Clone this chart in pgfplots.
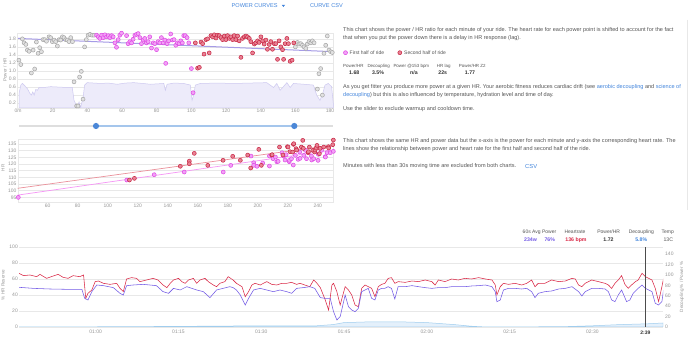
\documentclass[border=0pt]{standalone}
\usepackage{fontspec}
\setmainfont{Liberation Sans}
\usepackage{pgfplots}
\pgfplotsset{compat=1.18}
\definecolor{txt}{RGB}{85,85,85}
\definecolor{tickc}{RGB}{150,150,150}
\definecolor{gridc}{RGB}{232,232,232}
\definecolor{linkb}{RGB}{66,133,220}
\definecolor{magf}{RGB}{242,160,246}
\definecolor{magd}{RGB}{222,70,228}
\definecolor{redf}{RGB}{232,130,148}
\definecolor{redd}{RGB}{198,35,65}
\definecolor{grayf}{RGB}{225,225,225}
\definecolor{grayd}{RGB}{165,165,165}
\definecolor{trend}{RGB}{165,155,230}
\definecolor{lavf}{RGB}{237,235,250}
\definecolor{lavl}{RGB}{205,200,240}
\definecolor{hrred}{RGB}{218,40,70}
\definecolor{pwpur}{RGB}{115,90,230}
\definecolor{decb}{RGB}{160,205,238}
\definecolor{decf}{RGB}{228,240,251}
\definecolor{sltrack}{RGB}{222,222,222}
\definecolor{slblue}{RGB}{165,198,236}
\definecolor{slhandle}{RGB}{75,135,215}
\definecolor{midred}{RGB}{235,145,155}
\definecolor{midmag}{RGB}{245,150,245}
\definecolor{valc}{RGB}{50,50,50}
\newcommand\bodyf{\fontsize{5.55}{6.5}\selectfont}
\newcommand\legf{\fontsize{5}{6}\selectfont}
\newcommand\tickf{\fontsize{5}{6}\selectfont}
\newcommand\labf{\fontsize{5}{6}\selectfont}
\newcommand\statf{\fontsize{4.45}{5.5}\selectfont}
\newcommand\axlf{\fontsize{4.6}{5.5}\selectfont}
\newcommand\valf{\fontsize{5.2}{6}\selectfont\bfseries}
\pgfplotsset{
  dash/.style={scale only axis, axis line style={draw=gridc}, tick style={draw=none},
    major tick length=0pt,
    ymajorgrids, major grid style={draw=gridc, line width=0.4pt},
    ticklabel style={font=\tickf, text=tickc, inner sep=1pt},
    /pgf/number format/assume math mode=true},
  gpt/.style={only marks, mark=*, mark size=2pt, mark options={fill=grayf, draw=grayd, line width=0.5pt}},
  mpt/.style={only marks, mark=*, mark size=2pt, mark options={fill=magf, draw=magd, line width=0.5pt}},
  rpt/.style={only marks, mark=*, mark size=2pt, mark options={fill=redf, draw=redd, line width=0.5pt}},
}
\begin{document}
\begin{tikzpicture}
\path[use as bounding box] (0,0) rectangle (690pt,339pt);
\fill[white] (0,0) rectangle (690pt,339pt);

% ---------- header
\node[anchor=west, text=linkb, font=\fontsize{5.6}{6}\selectfont, inner sep=0] at (231.5pt,333pt) {POWER CURVES};
\fill[linkb] (281.8pt,334pt) -- (285pt,334pt) -- (283.4pt,332pt) -- cycle;
\node[anchor=west, text=linkb, font=\fontsize{5.6}{6}\selectfont, inner sep=0] at (310pt,333pt) {CURVE CSV};
\draw[gridc, line width=0.6pt] (687.7pt,319pt) -- (687.7pt,129pt);

% ---------- top chart
\begin{axis}[dash, at={(17pt,231pt)}, anchor=south west, width=316.5pt, height=75.2pt,
  xmin=-0.6, xmax=182, ymin=0.08, ymax=1.95,
  xtick={0,20,...,180}, xticklabels={0m,20,40,60,80,100,120,140,160,180},
  ytick={0.2,0.4,...,1.8},
  yticklabel style={/pgf/number format/.cd, fixed, fixed zerofill, precision=1},
  ]
\addplot[fill=lavf, draw=lavl, line width=0.5pt] coordinates {
(0.6,0.44)(1.6,0.65)(2.5,0.69)(3.5,0.65)(5.4,0.56)(6.9,0.44)(7.7,0.40)(8.5,0.48)(9.3,0.40)(10.2,0.54)(11.2,0.52)(12.1,0.59)(15,0.59)(18.8,0.61)(28.4,0.59)(31.3,0.59)(32.3,0.27)(33.2,0.19)(34.2,0.09)(35.2,0.23)(36.1,0.09)(37.6,0.36)(38.4,0.65)(39.9,0.71)(47.6,0.69)(52,0.70)(57.2,0.67)(62,0.70)(66.8,0.71)(72,0.69)(76.4,0.67)(84.1,0.69)(85.0,0.52)(86.0,0.67)(90,0.70)(95.6,0.69)(99.4,0.65)(100.4,0.27)(101.3,0.40)(102.3,0.65)(105.2,0.69)(115,0.70)(124.4,0.69)(134,0.70)(143.5,0.71)(147.4,0.59)(149.3,0.69)(151.2,0.52)(153.1,0.61)(155.1,0.71)(157.0,0.59)(158.9,0.69)(165,0.67)(170.4,0.65)(172.3,0.40)(174.2,0.27)(175.8,0.44)(177.1,0.65)(179.0,0.69)(180.9,0.61)(181.9,0.19)} \closedcycle;
\addplot[trend, line width=1pt] coordinates {(0,1.81)(182,1.48)};
\addplot[gpt] coordinates {
(0.5,1.27)(1.6,1.16)(2.5,1.80)(3.5,1.70)(4.5,1.66)(5.4,1.52)(6.4,1.49)(7.7,0.95)(8.7,1.52)(9.6,1.05)(10.6,1.72)(11.6,1.44)(12.5,1.58)(13.5,1.48)(14.4,1.78)(15.4,1.78)(16.4,1.74)(17.9,1.85)(18.8,1.83)(19.8,1.73)(20.8,1.77)(21.7,1.73)(22.7,1.62)(23.7,1.78)(24.6,1.77)(25.6,1.85)(26.5,1.83)(27.5,1.78)(28.4,1.77)(29.4,1.73)(30.4,1.83)(31.4,1.73)(32.3,0.73)(33.8,0.13)(34.6,0.13)(35.5,0.85)(36.5,0.99)(37.5,0.30)(38.4,1.60)(39.4,1.78)(40.4,1.89)(41.5,1.91)(42.7,1.89)(43.8,1.89)
(160.0,1.60)(161.2,1.71)(162.1,1.67)(163.1,1.68)(164.1,1.64)(165.0,1.60)(166.0,1.56)(166.9,1.67)(167.9,1.73)(168.9,1.70)(169.8,1.75)(170.8,1.70)(172.7,0.55)(173.6,0.93)(174.6,1.06)(175.6,0.40)(176.5,1.44)(177.5,1.64)(178.4,1.87)(179.4,1.52)(180.4,1.48)(181.3,1.46)};
\addplot[mpt] coordinates {
(45.3,1.89)(46.3,1.85)(47.2,1.81)(48.2,1.89)(49.2,1.83)(50.1,1.90)(51.1,1.85)(52.1,1.88)(53.0,1.83)(54.0,1.88)(54.9,1.85)(55.9,1.70)(56.8,1.59)(57.8,1.78)(58.7,1.89)(59.7,1.94)(60.7,1.97)(61.6,1.97)(62.6,1.88)(63.5,1.68)(64.5,1.73)(65.5,1.70)(66.4,1.79)(67.4,1.89)(68.4,1.91)(69.3,1.93)(70.3,1.83)(71.2,1.68)(72.2,1.77)(73.1,1.81)(74.1,1.70)(75.1,1.73)(76.0,1.85)(77.0,1.57)(78.0,1.70)(78.9,1.68)(79.9,1.53)(80.8,1.73)(81.8,1.70)(82.7,1.83)(83.7,1.70)(84.7,1.77)(85.2,1.19)(86.0,1.68)(86.9,1.75)(88.1,1.92)(89.1,1.77)(90.0,1.78)(91.0,1.64)(91.9,1.70)(92.9,1.68)(93.9,1.75)(94.8,1.70)(95.6,1.88)(96.5,1.88)(97.5,1.83)(98.5,1.70)(100,1.06)(101,0.46)};
\addplot[rpt] coordinates {
(102.3,1.70)(103.6,1.07)(104.6,1.09)(105.6,1.72)(106.5,1.68)(107.3,1.42)(108.4,1.78)(109.4,1.80)(110.3,1.45)(111.3,1.88)(112.3,1.85)(113.2,1.90)(114.2,1.82)(115.1,1.89)(116.1,1.88)(117.1,1.83)(118.0,1.78)(119.0,1.87)(119.9,1.78)(120.9,1.88)(121.9,1.81)(122.8,1.85)(123.8,1.78)(124.7,1.88)(125.7,1.78)(126.7,1.87)(127.6,1.75)(128.6,1.34)(129.5,1.81)(130.5,1.85)(131.5,1.87)(132.4,1.85)(133.4,1.81)(134.3,1.73)(135.3,1.45)(136.3,1.67)(137.2,1.70)(138.2,1.75)(139.1,1.71)(140.1,1.85)(141.1,1.75)(142.0,1.67)(143.0,1.77)(143.9,1.54)(144.9,1.66)(145.8,1.73)(146.8,1.54)(147.8,1.68)(148.7,1.68)(149.7,1.29)(150.6,1.75)(151.6,1.60)(152.6,1.53)(153.2,1.29)(154.1,1.68)(155.1,1.81)(156.0,1.68)(157.0,1.24)(158.1,1.27)(159.1,1.70)};
\end{axis}
\node[rotate=90, text=tickc, font=\axlf] at (5pt,269pt) {Power / HR};

% ---------- slider
\draw[sltrack, line width=1.6pt] (19pt,213pt) -- (333pt,213pt);
\draw[slblue, line width=1.6pt] (96pt,213pt) -- (294.3pt,213pt);
\fill[slhandle] (96pt,213pt) circle (3.1pt);
\fill[slhandle] (294.3pt,213pt) circle (3.1pt);

% ---------- middle chart
\begin{axis}[dash, at={(17.7pt,136.3pt)}, anchor=south west, width=315.8pt, height=63.6pt,
  xmin=40, xmax=250.5, ymin=91, ymax=138.7,
  xtick={60,80,...,240}, ytick={95,100,...,135}]
\addplot[midred, line width=0.7pt] coordinates {(40,101.8)(250.5,134.3)};
\addplot[midmag, line width=0.7pt] coordinates {(40,96.7)(250.5,130.6)};
\addplot[mpt] coordinates {
(40.4,95)(112.7,108)(131,112)(151,114)(177,114)(182,119)(195.5,126)(197.3,121)(197.3,119)(199.5,118.3)(203.3,120.75)(207.8,126)(207.8,118.5)(210.2,124)(211.8,125.25)(212.7,121.75)(213.6,122)(216.2,128.5)(217.3,126)(218.2,123)(218.9,127)(221,121.75)(221.1,122.75)(222.5,124)(223.7,119.25)(225.1,126.5)(226.9,123.5)(228,129)(228.2,124.25)(230.7,126.5)(231.8,130.25)(232.5,124)(235.8,126)(236,123)(237.3,124)(240.2,122.75)(240.4,127.25)(242.5,130.25)(245,125.5)(245.1,125.25)(246.2,128.5)(248.4,128.5)(250.4,129.5)};
\addplot[rpt] coordinates {
(114.5,108)(117.8,109.25)(148.4,118.3)(154.4,122.2)(154.4,120.2)(157.7,128)(166.7,119)(176.9,122.8)(183.3,125.8)(188.4,122.8)(193.3,126.75)(195.3,117)(200.7,131)(202.4,119)(209.3,126.75)(209.6,127)(214.5,132.75)(216.8,126.75)(219.8,133)(220.2,132.75)(221.5,129.25)(223.3,129)(223.8,134.75)(224,135.25)(225.6,131.5)(226,130.5)(229.1,132.75)(230,137.75)(230.4,131.75)(233.6,128.5)(233.8,129.25)(234.4,132.75)(236.7,130.25)(238,129)(238.2,130.5)(238.9,132)(239.5,134)(241.1,127.75)(241.6,131.75)(244,132.75)(247.1,133)(247.3,132)(250,134.5)(250.4,138)};
\end{axis}
\node[rotate=90, text=tickc, font=\axlf] at (3pt,171pt) {HR};

% ---------- bottom chart
\begin{axis}[dash, at={(19pt,12pt)}, anchor=south west, width=644pt, height=80pt,
  xmin=46.1, xmax=162.8, ymin=0, ymax=100, axis line style={draw=none},
  xtick={60,75,90,105,120,135,150},
  xticklabels={01:00,01:15,01:30,01:45,02:00,02:15,02:30},
  xticklabel style={yshift=-1.5pt},
  extra x ticks={159.6}, extra x tick labels={\textbf{2:39}},
  extra x tick style={grid=none, ticklabel style={text=valc, yshift=-1.5pt}},
  ytick={0,20,...,100}]
\addplot[fill=decf, draw=decb, line width=0.5pt] coordinates {
(46.1,0)(60,0.3)(70,0.6)(80,1)(90,1.5)(100,1.5)(103,3)(105,5.5)(110,6.5)(115,6.5)(120,5.5)(125,3)(128,1)(130,0.3)(140,0.3)(145,0.5)(150,1.5)(155,3)(160,4)(162.8,5)} \closedcycle;
\addplot[hrred, line width=0.55pt] coordinates {
(46.1,67.1)(46.9,64.2)(48.1,65)(49.3,62.9)(49.9,65.8)(51.1,60.8)(52.3,63.75)(53.2,65.8)(54.1,62.1)(55.0,60.8)(55.9,64.2)(57.1,62.9)(57.8,65)(58.0,50.4)(58.2,35.8)(58.6,42.1)(59.3,46.25)(59.9,56.7)(60.5,57.5)(61.4,54.6)(62.6,53.3)(63.8,54.6)(64.4,48.3)(65.0,44.2)(65.6,60)(66.5,61.7)(67.4,60.8)(68.0,56.7)(69.2,58.75)(70.4,60.8)(71.3,58.75)(72.2,52.5)(72.9,49.2)(73.5,54.6)(74.1,58.75)(75.0,60.8)(75.6,56.7)(76.2,54.6)(76.8,58.75)(77.7,60.8)(78.3,54.6)(78.9,58.75)(79.8,60.8)(80.4,56.7)(81.3,52.5)(81.9,50.4)(82.5,54.6)(83.4,56.7)(84.0,62.9)(84.9,58.75)(85.5,54.6)(86.5,50.4)(87.1,37.9)(87.7,44.2)(88.3,52.5)(88.9,54.6)(89.8,52.5)(90.4,54.6)(91.0,56.7)(91.9,53.3)(92.8,52.5)(93.7,54.6)(94.6,54.6)(95.5,55.8)(96.4,53.3)(97.0,54.6)(97.9,52.5)(98.8,50.4)(99.5,58.75)(100.1,54.6)(100.7,49.2)(101.6,33.75)(102.2,21.25)(102.8,52.5)(103.1,54.6)(103.7,44.2)(104.3,27.5)(105.2,50.4)(105.8,46.25)(106.4,40)(107.0,27.5)(107.6,25.4)(108.2,48.3)(108.8,52.5)(109.4,50.4)(110.0,48.3)(110.6,37.9)(111.2,50.4)(111.8,53.3)(112.4,54.6)(113.0,60.8)(113.6,61.7)(114.2,54.6)(114.8,56.7)(116.1,55.8)(117.3,57.5)(118.5,56.7)(119.7,58.75)(120.9,56.7)(121.5,52.5)(122.1,58.75)(123.3,56.7)(124.5,60)(125.7,58.75)(126.9,60.8)(128.1,60)(129.4,61.7)(130.6,60)(131.8,58.75)(132.4,52.5)(132.7,40)(133.3,50.4)(133.9,54.6)(134.8,53.3)(136.0,54.6)(137.2,52.5)(138.1,54.6)(139.0,58.75)(139.6,50.4)(140.2,54.6)(141.4,54.6)(142.6,58.75)(143.9,56.7)(145.1,57.5)(146.3,60.8)(146.9,60)(147.5,52.5)(148.1,50.4)(148.7,54.6)(149.9,58.75)(151.1,56.7)(152.3,54.6)(152.9,52.5)(153.5,48.3)(154.1,54.6)(154.7,58.75)(155.3,64.2)(155.9,53.3)(156.5,48.3)(157.1,52.5)(157.8,56.7)(158.3,58.75)(159.0,67.1)(159.6,62.9)(160.2,60.8)(160.8,58.75)(161.4,48.3)(162.0,31.7)(162.6,50.4)(162.9,60.8)};
\addplot[pwpur, line width=0.55pt] coordinates {
(46.1,49.6)(48.7,48.3)(51.7,47.5)(54.7,47.1)(57.5,47.1)(58.0,35.8)(58.6,33.75)(59.3,44.2)(60.2,52.5)(61.4,51.7)(63.2,49.2)(64.4,42.1)(65.0,40)(65.6,51.7)(66.8,52.5)(68.6,53.3)(71.0,51.7)(72.2,44.2)(73.2,42.1)(74.1,48.3)(75.3,46.25)(76.5,50.4)(78.3,46.25)(79.5,44.2)(80.7,36.7)(81.9,46.25)(83.1,48.3)(84.3,50.4)(84.9,49.2)(85.5,46.25)(86.2,40)(87.1,27.5)(87.7,35.8)(88.6,46.25)(89.8,48.3)(91.0,46.25)(92.2,44.2)(93.4,46.25)(94.6,44.2)(95.5,42.1)(96.4,48.3)(97.6,49.2)(98.8,50.4)(99.7,48.3)(100.7,36.7)(101.6,35.8)(102.5,35.8)(103.1,19.2)(103.7,8.75)(104.3,12.9)(105.2,40)(105.8,25.4)(106.4,21.25)(107.0,19.2)(107.6,23.3)(108.2,44.2)(108.8,46.25)(109.4,48.3)(110.0,35.8)(110.6,33.75)(111.2,46.25)(111.8,48.3)(112.4,48.3)(113.0,50.4)(113.6,48.3)(114.2,35)(114.8,50.4)(116.1,50.4)(117.3,51.7)(118.5,50.4)(119.7,49.2)(120.9,48.3)(122.1,49.2)(123.3,49.2)(124.5,50.4)(125.7,50.4)(126.9,50.4)(128.1,51.25)(129.4,51.7)(130.6,52.5)(131.8,50.4)(132.4,44.2)(132.7,31.7)(133.3,33.75)(133.9,46.25)(134.8,48.3)(136.0,48.3)(137.2,47.5)(138.1,48.3)(139.0,44.2)(139.6,36.7)(140.2,42.1)(141.4,44.2)(142.6,45)(143.9,47.5)(145.1,48.3)(146.3,50.4)(147.5,44.2)(148.1,38.75)(148.7,44.2)(149.9,48.3)(151.1,48.3)(152.3,47.5)(152.9,44.2)(153.5,33.75)(154.1,31.7)(154.7,40)(155.3,46.25)(156.2,31.7)(156.8,33.75)(157.4,42.1)(158.3,48.3)(159.0,52.5)(159.6,48.3)(160.2,46.25)(160.8,44.2)(161.4,29.6)(162.0,27.5)(162.6,31.7)(162.9,46.25)};
\addplot[black!70, line width=0.8pt] coordinates {(159.6,0)(159.6,100)};
\end{axis}
\begin{axis}[dash, at={(19pt,12pt)}, anchor=south west, width=644pt, height=80pt,
  xmin=46.1, xmax=162.8, ymin=0, ymax=153.9, axis line style={draw=none},
  ymajorgrids=false, axis y line*=right, hide x axis,
  ytick={0,20,...,140}, yticklabel style={anchor=west, xshift=1pt}]
\addplot[draw=none] coordinates {(50,0)};
\end{axis}
\node[rotate=90, text=tickc, font=\axlf] at (3pt,54pt) {\% HR Reserve};
\node[rotate=90, text=tickc, font=\axlf] at (682pt,52pt) {Decoupling \% / Power \%};

% bottom legend
\begin{scope}[every node/.style={inner sep=0}]
\node[text=txt, font=\labf] at (539.5pt,107pt) {60s Avg Power};
\node[anchor=west, text=pwpur, font=\valf] at (524pt,99pt) {234w};
\node[anchor=west, text=pwpur, font=\valf] at (544.3pt,99pt) {76\%};
\node[text=txt, font=\labf] at (575pt,107pt) {Heartrate};
\node[text=hrred, font=\valf] at (576pt,99pt) {136 bpm};
\node[text=txt, font=\labf] at (608.7pt,107pt) {Power/HR};
\node[text=valc, font=\valf] at (608.5pt,99pt) {1.72};
\node[text=txt, font=\labf] at (641.3pt,107pt) {Decoupling};
\node[text=linkb, font=\valf] at (641.2pt,99pt) {5.8\%};
\node[text=txt, font=\labf] at (667.7pt,107pt) {Temp};
\node[text=txt, font=\valf\mdseries] at (668.3pt,99pt) {13C};
\end{scope}

% ---------- right texts
\begin{scope}[every node/.style={anchor=west, inner sep=0, text=txt, font=\bodyf}]
\node at (343pt,309.3pt) {This chart shows the power / HR ratio for each minute of your ride. The heart rate for each power point is shifted to account for the fact};
\node at (343pt,300.7pt) {that when you put the power down there is a delay in HR response (lag).};
\node[font=\legf] at (349.5pt,286.3pt) {First half of ride};
\node[font=\legf] at (404pt,286.3pt) {Second half of ride};
\node[font=\statf] at (343pt,273pt) {Power/HR};
\node[font=\statf] at (367.3pt,273pt) {Decoupling};
\node[font=\statf] at (393.3pt,273pt) {Power @153 bpm};
\node[font=\statf] at (436.7pt,273pt) {HR lag};
\node[font=\statf] at (458.7pt,273pt) {Power/HR Z2};
\node at (343pt,252.3pt) {As you get fitter you produce more power at a given HR. Your aerobic fitness reduces cardiac drift (see \textcolor{linkb}{aerobic decoupling} and \textcolor{linkb}{science of}};
\node at (343pt,244.3pt) {\textcolor{linkb}{decoupling}) but this is also influenced by temperature, hydration level and time of day.};
\node at (343pt,230pt) {Use the slider to exclude warmup and cooldown time.};
\node at (343pt,198pt) {This chart shows the same HR and power data but the x-axis is the power for each minute and y-axis the corresponding heart rate. The};
\node at (343pt,189.7pt) {lines show the relationship between power and heart rate for the first half and second half of the ride.};
\node at (343pt,172.7pt) {Minutes with less than 30s moving time are excluded from both charts.};
\node[text=linkb, font=\fontsize{5.8}{6}\selectfont] at (525pt,172.7pt) {CSV};
\end{scope}
\begin{scope}[every node/.style={inner sep=0, text=valc, font=\valf}]
\node at (354.3pt,266.5pt) {1.68};
\node at (378pt,266.5pt) {3.5\%};
\node at (414pt,266.5pt) {n/a};
\node at (442.7pt,266.5pt) {22s};
\node at (470pt,266.5pt) {1.77};
\end{scope}
\filldraw[fill=magf, draw=magd, line width=0.5pt] (345.5pt,286.3pt) circle (2pt);
\filldraw[fill=redf, draw=redd, line width=0.5pt] (399.8pt,286.3pt) circle (2pt);
\end{tikzpicture}
\end{document}
